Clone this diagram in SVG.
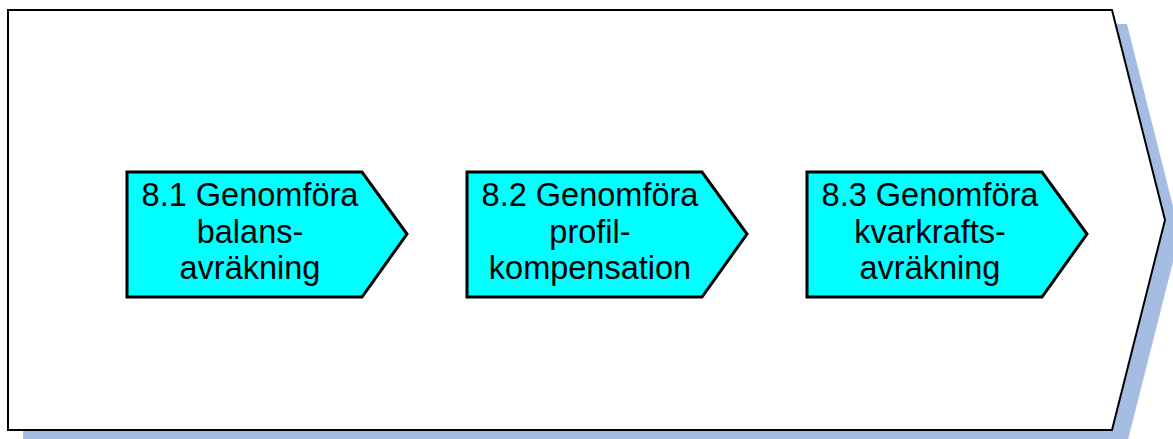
<svg xmlns="http://www.w3.org/2000/svg" width="1173" height="439" viewBox="0 0 1173 439">
<style>
.shadow{fill:#a5bde0;stroke:none}
.frame{fill:#ffffff;stroke:#000000;stroke-width:2}
.step{fill:#00ffff;stroke:#000000;stroke-width:3;stroke-linejoin:miter}
.lbl{font-family:"Liberation Sans",Arial,sans-serif;font-size:32.5px;fill:#000000;text-anchor:middle}
</style>
<g id="process">
<polygon class="shadow" points="23,24 1127,24 1180,234 1127,444 23,444"/>
<polygon class="frame" points="8,10 1112,10 1165,220 1112,430 8,430"/>
</g>
<g id="connectors"></g>
<g id="node-8-1">
<polygon class="step" points="127,172 362,172 407,234 362,297 127,297"/>
<text class="lbl" x="250" y="206">8.1 Genomföra</text>
<text class="lbl" x="250" y="243">balans-</text>
<text class="lbl" x="250" y="279">avräkning</text>
</g>
<g id="node-8-2">
<polygon class="step" points="467,172 702,172 747,234 702,297 467,297"/>
<text class="lbl" x="590" y="206">8.2 Genomföra</text>
<text class="lbl" x="590" y="243">profil-</text>
<text class="lbl" x="590" y="279">kompensation</text>
</g>
<g id="node-8-3">
<polygon class="step" points="807,172 1042,172 1087,234 1042,297 807,297"/>
<text class="lbl" x="930" y="206">8.3 Genomföra</text>
<text class="lbl" x="930" y="243">kvarkrafts-</text>
<text class="lbl" x="930" y="279">avräkning</text>
</g>
</svg>
